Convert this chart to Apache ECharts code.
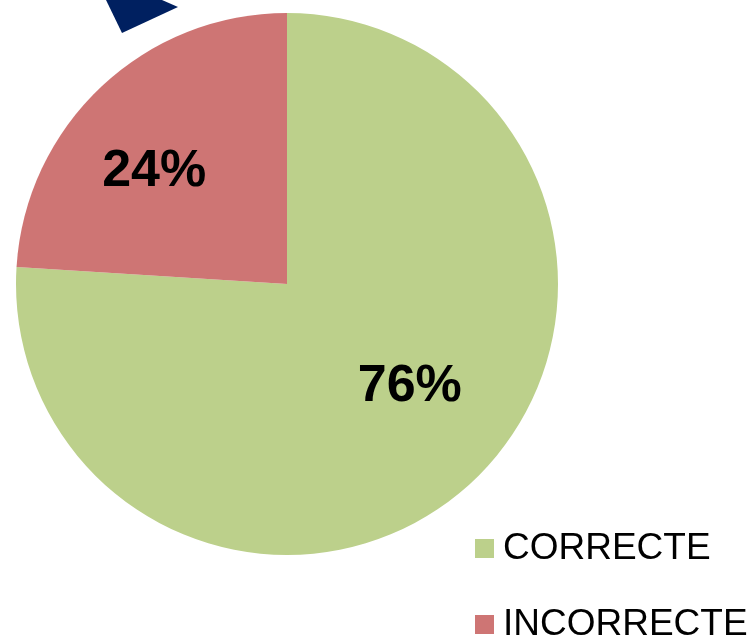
<!DOCTYPE html>
<html>
<head>
<meta charset="utf-8">
<script src="https://cdn.jsdelivr.net/npm/echarts@6/dist/echarts.min.js"></script>
<style>
  html, body { margin: 0; padding: 0; background: #ffffff; }
  #chart { width: 753px; height: 637px; }
</style>
</head>
<body>
<div id="chart"></div>
<script>
// Answer categories and their shares (percent)
const categories = ['CORRECTE', 'INCORRECTE'];
const shares = [76, 24];
const sliceColors = ['#BCD08B', '#CE7574'];

// Label nudges relative to the default inside position, per slice
const labelShift = [[28, 2], [-38, -11]];

// One legend entry per row, stacked down the lower right corner
const legendTops = [530, 606];

const chart = echarts.init(document.getElementById('chart'), null, { renderer: 'canvas' });

const legendBase = {
  orient: 'vertical',
  left: 475,
  padding: 0,
  itemWidth: 19,
  itemHeight: 19,
  icon: 'rect',
  selectedMode: false,
  textStyle: {
    fontFamily: 'Liberation Sans, Arial, sans-serif',
    fontSize: 37,
    color: '#000000',
    padding: [0, 0, 0, 4]
  }
};

chart.setOption({
  backgroundColor: '#ffffff',
  animation: false,
  legend: categories.map(function (name, i) {
    return Object.assign({}, legendBase, { top: legendTops[i], data: [name] });
  }),
  graphic: [{
    // partial navy arrow tip peeking in at the top edge
    type: 'polygon',
    shape: { points: [[106, 0], [162, 0], [178, 7], [122, 33]] },
    style: { fill: '#002060' },
    z: 10
  }],
  series: [{
    type: 'pie',
    center: [287, 284],
    radius: 271,
    startAngle: 90,
    clockwise: true,
    silent: true,
    itemStyle: { borderWidth: 0 },
    label: {
      show: true,
      position: 'inside',
      formatter: '{d}%',
      fontFamily: 'Liberation Sans, Arial, sans-serif',
      fontWeight: 'bold',
      fontSize: 52,
      color: '#000000'
    },
    labelLine: { show: false },
    labelLayout: function (params) {
      const s = labelShift[params.dataIndex];
      return { dx: s[0], dy: s[1] };
    },
    data: categories.map(function (name, i) {
      return { name: name, value: shares[i], itemStyle: { color: sliceColors[i] } };
    })
  }]
});
</script>
</body>
</html>
